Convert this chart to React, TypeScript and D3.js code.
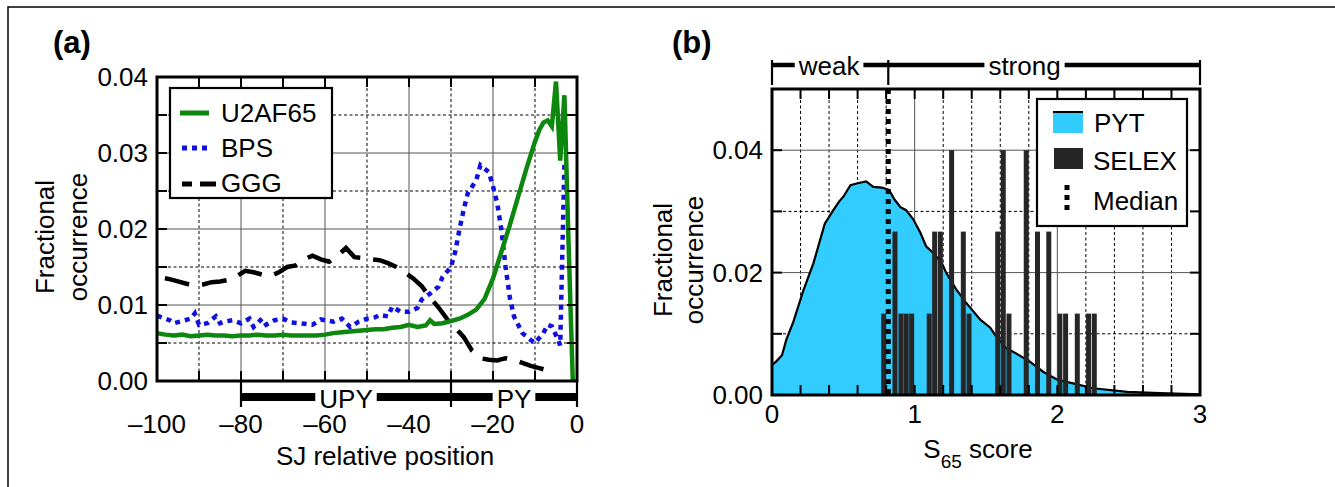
import React from 'react';
import * as d3 from 'd3';

// ---------- Panel (a) data ----------
const U2_POS = [-100,-98,-96,-94,-92,-90,-88,-86,-84,-82,-80,-78,-76,-74,-72,-70,-68,-66,-64,-62,-60,-58,-56,-54,-52,-50,-48,-46,-44,-42,-40,-38,-36,-35,-34,-32,-30,-28,-26,-24,-22,-20,-18,-16,-14,-12,-10,-9,-8,-7,-6,-5,-4,-3,-2,-1];
const U2_VAL = [0.0063,0.0061,0.0060,0.0061,0.0059,0.0060,0.0061,0.0060,0.0060,0.0059,0.0060,0.0060,0.0061,0.0060,0.0060,0.0061,0.0060,0.0060,0.0060,0.0060,0.0061,0.0063,0.0064,0.0065,0.0066,0.0067,0.0068,0.0068,0.0070,0.0071,0.0074,0.0071,0.0073,0.0080,0.0075,0.0076,0.0079,0.0082,0.0087,0.0094,0.0108,0.0135,0.0170,0.0205,0.0243,0.0280,0.0315,0.0330,0.0340,0.0343,0.0335,0.0394,0.0290,0.0376,0.0180,0.0000];

const BPS_POS = [-100,-97,-96,-94,-92,-91,-90,-88,-86,-85,-84,-82,-80,-78,-77,-75,-74,-72,-70,-68,-66,-63,-61,-58,-56,-54,-52,-50,-48,-47,-45,-44,-42,-40,-38,-37,-35,-33,-32,-30,-29,-28,-27,-26,-24,-23,-21,-20,-19,-18,-17,-16,-15,-13,-11,-10,-8,-7,-6,-5,-4,-3];
const BPS_VAL = [0.0086,0.0080,0.0076,0.0079,0.0082,0.0089,0.0074,0.0076,0.0085,0.0076,0.0078,0.0080,0.0076,0.0082,0.0071,0.0082,0.0074,0.0080,0.0082,0.0077,0.0076,0.0074,0.0081,0.0078,0.0082,0.0071,0.0078,0.0082,0.0084,0.0087,0.0085,0.0098,0.0091,0.0091,0.0096,0.0107,0.0115,0.0124,0.0137,0.0150,0.0170,0.0199,0.0225,0.0247,0.0264,0.0284,0.0275,0.0256,0.0234,0.0199,0.0150,0.0110,0.0085,0.0063,0.0054,0.0050,0.0063,0.0074,0.0072,0.0060,0.0047,0.0285];

const GGG_POS = [-100,-97,-95,-93,-91,-89,-87,-85,-83,-81,-79,-77,-75,-73,-71,-69,-67,-65,-63,-61,-59,-57,-55,-53,-51,-49,-47,-45,-43,-41,-39,-37,-35,-33,-31,-29,-27,-25,-23,-21,-19,-17,-15,-13,-11,-9,-7,-5];
const GGG_VAL = [0.0137,0.0134,0.0131,0.0128,0.0126,0.0127,0.0130,0.0131,0.0133,0.0138,0.0145,0.0143,0.0140,0.0138,0.0143,0.0150,0.0152,0.0160,0.0165,0.0160,0.0157,0.0165,0.0175,0.0163,0.0162,0.0160,0.0159,0.0155,0.0150,0.0143,0.0135,0.0125,0.0110,0.0097,0.0082,0.0070,0.0058,0.0040,0.0030,0.0028,0.0027,0.0030,0.0028,0.0024,0.0020,0.0017,0.0014,0.0012];

const A_X_MAJOR = [-100,-80,-60,-40,-20,0];
const A_X_MINOR = [-90,-70,-50,-30,-10];
const A_X_LABELS = ['\u2013100','\u201380','\u201360','\u201340','\u201320','0'];
const A_Y_MAJOR = [0,0.01,0.02,0.03,0.04];
const A_Y_MINOR = [0.005,0.015,0.025,0.035];
const A_Y_LABELS = ['0.00','0.01','0.02','0.03','0.04'];
const A_REGIONS = [{ label: 'UPY', from: -80, to: -30 }, { label: 'PY', from: -30, to: 0 }];

// ---------- Panel (b) data ----------
const PYT_X = [0,0.03,0.07,0.1,0.15,0.22,0.29,0.37,0.43,0.47,0.5,0.55,0.6,0.66,0.71,0.77,0.82,0.86,0.9,0.94,0.99,1.04,1.08,1.13,1.19,1.22,1.29,1.36,1.46,1.53,1.57,1.64,1.74,1.81,1.9,2.0,2.11,2.25,2.49,2.72,3.0];
const PYT_Y = [0.0049,0.0055,0.0065,0.009,0.012,0.0171,0.0215,0.028,0.0302,0.0316,0.0324,0.0343,0.0346,0.0349,0.034,0.0339,0.0335,0.0319,0.0307,0.0302,0.0287,0.0265,0.0243,0.0232,0.0216,0.02,0.0173,0.0151,0.0123,0.011,0.0096,0.0077,0.0064,0.0054,0.0038,0.0025,0.0019,0.0011,0.0005,0.0003,0.0001];

const SELEX_X = [0.783,0.862,0.904,0.941,0.979,1.102,1.14,1.18,1.259,1.341,1.381,1.582,1.621,1.661,1.782,1.861,1.94,2.018,2.058,2.14,2.219,2.259];
const SELEX_Y = [0.0133,0.0267,0.0133,0.0133,0.0133,0.0133,0.0267,0.0267,0.04,0.0267,0.0133,0.0267,0.04,0.0133,0.04,0.0267,0.0267,0.0133,0.0133,0.0133,0.0133,0.0133];
const MEDIAN = 0.815;

const B_X_MAJOR = [0,1,2,3];
const B_X_MINOR = [0.2,0.4,0.6,0.8,1.2,1.4,1.6,1.8,2.2,2.4,2.6,2.8];
const B_X_LABELS = ['0','1','2','3'];
const B_Y_MAJOR = [0,0.02,0.04];
const B_Y_MINOR = [0.01,0.03,0.05];
const B_Y_LABELS = ['0.00','0.02','0.04'];
const B_REGIONS = [{ label: 'weak', from: 0, to: MEDIAN, at: 0.4 }, { label: 'strong', from: MEDIAN, to: 3, at: 1.77 }];

const FONT = "'Liberation Sans', Arial, Helvetica, sans-serif";
const FS = 26;

let _ctx: CanvasRenderingContext2D | null = null;
function textW(s: string, size = FS): number {
  if (!_ctx) _ctx = document.createElement('canvas').getContext('2d');
  if (!_ctx) return s.length * size * 0.55;
  _ctx.font = `${size}px ${FONT}`;
  return _ctx.measureText(s).width;
}

// bracket bar with gaps around labels
function Bracket({ x0, x1, y, thick, labels, tickTop, tickBot, ticks, textY }: any) {
  const gap = 4;
  const segs: [number, number][] = [];
  let cur = x0;
  labels.forEach((l: any) => {
    const w = textW(l.label);
    segs.push([cur, l.cx - w / 2 - gap]);
    cur = l.cx + w / 2 + gap;
  });
  segs.push([cur, x1]);
  return (
    <g>
      {segs.map((s, i) => (
        <line key={i} x1={s[0]} x2={s[1]} y1={y} y2={y} stroke="#000" strokeWidth={thick} />
      ))}
      {ticks.map((t: number, i: number) => (
        <line key={'t' + i} x1={t} x2={t} y1={tickTop} y2={tickBot} stroke="#000" strokeWidth={2.2} />
      ))}
      {labels.map((l: any, i: number) => (
        <text key={'l' + i} x={l.cx} y={textY} textAnchor="middle" fontSize={FS} fontFamily={FONT}>{l.label}</text>
      ))}
    </g>
  );
}

function PanelA() {
  const L = 157, R = 577, T = 77, B = 381;
  const x = d3.scaleLinear().domain([-100, 0]).range([L, R]);
  const y = d3.scaleLinear().domain([0, 0.04]).range([B, T]);
  const mk = (px: number[], py: number[]) =>
    d3.line<number>().x((_, i) => x(px[i])).y((_, i) => y(py[i]))(px) || '';
  const dotted = '3,2.5';
  const gridCol = '#555';
  const tick = 10;
  return (
    <g>
      <defs>
        <clipPath id="clipA"><rect x={L} y={T - 4} width={R - L} height={B - T + 4} /></clipPath>
      </defs>
      {/* grid */}
      {A_X_MAJOR.slice(1, -1).map((v) => (
        <line key={'gx' + v} x1={x(v)} x2={x(v)} y1={T} y2={B} stroke={gridCol} strokeWidth={1} />
      ))}
      {A_X_MINOR.map((v) => (
        <line key={'mx' + v} x1={x(v)} x2={x(v)} y1={T} y2={B} stroke="#000" strokeWidth={1} strokeDasharray={dotted} />
      ))}
      {A_Y_MAJOR.slice(1, -1).map((v) => (
        <line key={'gy' + v} x1={L} x2={R} y1={y(v)} y2={y(v)} stroke={gridCol} strokeWidth={1} />
      ))}
      {A_Y_MINOR.map((v) => (
        <line key={'my' + v} x1={L} x2={R} y1={y(v)} y2={y(v)} stroke="#000" strokeWidth={1} strokeDasharray={dotted} />
      ))}
      {/* series */}
      <g clipPath="url(#clipA)" fill="none">
        <path d={mk(GGG_POS, GGG_VAL)} stroke="#000" strokeWidth={4.5} strokeDasharray="25,13" strokeDashoffset={-8} />
        <path d={mk(BPS_POS, BPS_VAL)} stroke="#1010e0" strokeWidth={4.5} strokeDasharray="5,5" />
        <path d={mk(U2_POS, U2_VAL)} stroke="#0d870d" strokeWidth={4.5} strokeLinejoin="miter" />
      </g>
      {/* legend */}
      <g>
        <rect x={170} y={88} width={162} height={110} fill="#fff" stroke="#000" strokeWidth={2.2} />
        <line x1={180} x2={209} y1={113} y2={113} stroke="#0d870d" strokeWidth={5} />
        <line x1={182} x2={211} y1={148} y2={148} stroke="#1010e0" strokeWidth={5} strokeDasharray="5,5" />
        <line x1={182} x2={216} y1={184} y2={184} stroke="#000" strokeWidth={5} strokeDasharray="10,8,16,50" />
        <text x={221} y={122} fontSize={FS} fontFamily={FONT}>U2AF65</text>
        <text x={221} y={157} fontSize={FS} fontFamily={FONT}>BPS</text>
        <text x={221} y={192} fontSize={FS} fontFamily={FONT}>GGG</text>
      </g>
      {/* frame */}
      <rect x={L} y={T} width={R - L} height={B - T} fill="none" stroke="#000" strokeWidth={3} />
      {/* ticks */}
      {[...A_X_MAJOR, ...A_X_MINOR].map((v) => (
        <g key={'tx' + v}>
          <line x1={x(v)} x2={x(v)} y1={B} y2={B - tick} stroke="#000" strokeWidth={2} />
          <line x1={x(v)} x2={x(v)} y1={T} y2={T + tick} stroke="#000" strokeWidth={2} />
        </g>
      ))}
      {[...A_Y_MAJOR, ...A_Y_MINOR].map((v) => (
        <g key={'ty' + v}>
          <line x1={L} x2={L + tick} y1={y(v)} y2={y(v)} stroke="#000" strokeWidth={2} />
          <line x1={R} x2={R - tick} y1={y(v)} y2={y(v)} stroke="#000" strokeWidth={2} />
        </g>
      ))}
      {/* tick labels */}
      {A_X_MAJOR.map((v, i) => (
        <text key={'lx' + v} x={x(v)} y={433} textAnchor="middle" fontSize={FS} fontFamily={FONT}>{A_X_LABELS[i]}</text>
      ))}
      {A_Y_MAJOR.map((v, i) => (
        <text key={'ly' + v} x={148} y={y(v) + 9} textAnchor="end" fontSize={FS} fontFamily={FONT}>{A_Y_LABELS[i]}</text>
      ))}
      {/* region bracket */}
      <Bracket
        x0={x(A_REGIONS[0].from)} x1={x(0)} y={397} thick={8}
        labels={A_REGIONS.map((r) => ({ label: r.label, cx: x((r.from + r.to) / 2) }))}
        ticks={[x(-80), x(-30), x(0)]} tickTop={381} tickBot={407} textY={408}
      />
      {/* axis titles */}
      <text x={385} y={465} textAnchor="middle" fontSize={FS} fontFamily={FONT}>SJ relative position</text>
      <text transform="translate(54,237) rotate(-90)" textAnchor="middle" fontSize={FS} fontFamily={FONT}>Fractional</text>
      <text transform="translate(87,237) rotate(-90)" textAnchor="middle" fontSize={FS} fontFamily={FONT}>occurrence</text>
      <text x={53} y={53} fontSize={31} fontWeight="bold" fontFamily={FONT}>(a)</text>
    </g>
  );
}

function PanelB() {
  const L = 772, R = 1200, T = 89, B = 395;
  const x = d3.scaleLinear().domain([0, 3]).range([L, R]);
  const y = d3.scaleLinear().domain([0, 0.05]).range([B, T]);
  const area = d3.area<number>().x((_, i) => x(PYT_X[i])).y0(y(0)).y1((_, i) => y(PYT_Y[i]))(PYT_X) || '';
  const line = d3.line<number>().x((_, i) => x(PYT_X[i])).y((_, i) => y(PYT_Y[i]))(PYT_X) || '';
  const barW = x(0.035) - x(0);
  const dotted = '3,2.5';
  const gridCol = '#555';
  const tick = 10;
  return (
    <g>
      {B_X_MAJOR.slice(1, -1).map((v) => (
        <line key={'gx' + v} x1={x(v)} x2={x(v)} y1={T} y2={B} stroke={gridCol} strokeWidth={1} />
      ))}
      {B_X_MINOR.map((v) => (
        <line key={'mx' + v} x1={x(v)} x2={x(v)} y1={T} y2={B} stroke="#000" strokeWidth={1} strokeDasharray={dotted} />
      ))}
      {B_Y_MAJOR.slice(1).map((v) => (
        <line key={'gy' + v} x1={L} x2={R} y1={y(v)} y2={y(v)} stroke={gridCol} strokeWidth={1} />
      ))}
      {B_Y_MINOR.slice(0, -1).map((v) => (
        <line key={'my' + v} x1={L} x2={R} y1={y(v)} y2={y(v)} stroke="#000" strokeWidth={1} strokeDasharray={dotted} />
      ))}
      <path d={area} fill="#33ccff" stroke="none" />
      <path d={line} fill="none" stroke="#000" strokeWidth={2.2} />
      {SELEX_X.map((v, i) => (
        <rect key={'b' + i} x={x(v) - barW / 2} y={y(SELEX_Y[i])} width={barW} height={y(0) - y(SELEX_Y[i])} fill="#262626" />
      ))}
      <line x1={x(MEDIAN)} x2={x(MEDIAN)} y1={T} y2={B} stroke="#000" strokeWidth={5} strokeDasharray="5,5" />
      {/* legend */}
      <g>
        <rect x={1037} y={99} width={150} height={127} fill="#fff" stroke="#000" strokeWidth={2.2} />
        <rect x={1053} y={112} width={30} height={21} fill="#33ccff" />
        <line x1={1053} x2={1083} y1={112} y2={112} stroke="#000" strokeWidth={2} />
        <rect x={1054} y={148} width={29} height={21} fill="#262626" />
        <line x1={1067} x2={1067} y1={185} y2={212} stroke="#000" strokeWidth={5} strokeDasharray="5,5" />
        <text x={1094} y={132} fontSize={FS} fontFamily={FONT}>PYT</text>
        <text x={1093} y={170} fontSize={FS} fontFamily={FONT}>SELEX</text>
        <text x={1093} y={210} fontSize={FS} fontFamily={FONT}>Median</text>
      </g>
      <rect x={L} y={T} width={R - L} height={B - T} fill="none" stroke="#000" strokeWidth={3} />
      {[...B_X_MAJOR, ...B_X_MINOR].map((v) => (
        <g key={'tx' + v}>
          <line x1={x(v)} x2={x(v)} y1={B} y2={B - tick} stroke="#000" strokeWidth={2} />
          <line x1={x(v)} x2={x(v)} y1={T} y2={T + tick} stroke="#000" strokeWidth={2} />
        </g>
      ))}
      {[...B_Y_MAJOR, ...B_Y_MINOR].map((v) => (
        <g key={'ty' + v}>
          <line x1={L} x2={L + tick} y1={y(v)} y2={y(v)} stroke="#000" strokeWidth={2} />
          <line x1={R} x2={R - tick} y1={y(v)} y2={y(v)} stroke="#000" strokeWidth={2} />
        </g>
      ))}
      {B_X_MAJOR.map((v, i) => (
        <text key={'lx' + v} x={x(v)} y={423} textAnchor="middle" fontSize={FS} fontFamily={FONT}>{B_X_LABELS[i]}</text>
      ))}
      {B_Y_MAJOR.map((v, i) => (
        <text key={'ly' + v} x={763} y={y(v) + 9} textAnchor="end" fontSize={FS} fontFamily={FONT}>{B_Y_LABELS[i]}</text>
      ))}
      <Bracket
        x0={x(0)} x1={x(3)} y={65} thick={4.5}
        labels={B_REGIONS.map((r) => ({ label: r.label, cx: x(r.at) }))}
        ticks={[x(0), x(MEDIAN), x(3)]} tickTop={60} tickBot={85} textY={75}
      />
      <text x={978} y={458} textAnchor="middle" fontSize={FS} fontFamily={FONT}>
        S<tspan fontSize={19} dy={10}>65</tspan><tspan dy={-10}> score</tspan>
      </text>
      <text transform="translate(672,260) rotate(-90)" textAnchor="middle" fontSize={FS} fontFamily={FONT}>Fractional</text>
      <text transform="translate(703,260) rotate(-90)" textAnchor="middle" fontSize={FS} fontFamily={FONT}>occurrence</text>
      <text x={672} y={53} fontSize={31} fontWeight="bold" fontFamily={FONT}>(b)</text>
    </g>
  );
}

export default function App() {
  return (
    <svg width={1335} height={487} viewBox="0 0 1335 487"
      style={{ position: 'absolute', left: 0, top: 0, background: '#fff' }}>
      <rect x={0} y={0} width={1335} height={487} fill="#fff" />
      <rect x={8} y={7} width={1340} height={500} fill="none" stroke="#000" strokeWidth={1.5} />
      <PanelA />
      <PanelB />
    </svg>
  );
}
